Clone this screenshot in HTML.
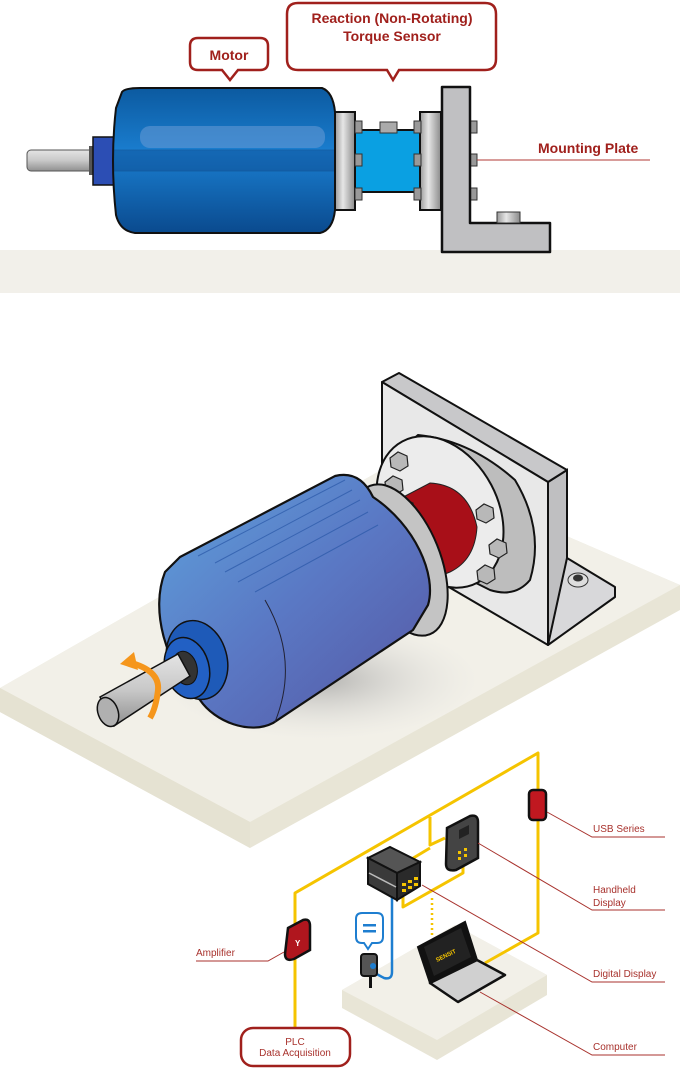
<!DOCTYPE html>
<html><head><meta charset="utf-8"><style>
html,body{margin:0;padding:0;background:#fff;}
svg{display:block;}
text{font-family:"Liberation Sans",sans-serif;}
</style></head><body>
<svg width="680" height="1071" viewBox="0 0 680 1071" xmlns="http://www.w3.org/2000/svg">
<defs>
<linearGradient id="gshaft" x1="0" y1="0" x2="0" y2="1"><stop offset="0" stop-color="#e4e4e4"/><stop offset="0.5" stop-color="#c8c8c8"/><stop offset="1" stop-color="#909090"/></linearGradient>
<linearGradient id="gfl" x1="0" y1="0" x2="1" y2="0"><stop offset="0" stop-color="#9a9a9a"/><stop offset="0.4" stop-color="#e6e6e6"/><stop offset="1" stop-color="#8a8a8a"/></linearGradient>
<linearGradient id="gmot" x1="0" y1="0" x2="0" y2="1"><stop offset="0" stop-color="#0c5aa0"/><stop offset="0.45" stop-color="#1a7ed0"/><stop offset="1" stop-color="#0a4a8e"/></linearGradient>
<linearGradient id="gbody" x1="0" y1="0" x2="1" y2="1"><stop offset="0" stop-color="#5ea2dc"/><stop offset="0.5" stop-color="#5a78c4"/><stop offset="1" stop-color="#5656a2"/></linearGradient>
<radialGradient id="gsh" cx="0.5" cy="0.5" r="0.5"><stop offset="0" stop-color="#999" stop-opacity="0.7"/><stop offset="1" stop-color="#ddd" stop-opacity="0"/></radialGradient>
</defs>

<!-- TOP SECTION -->
<rect x="0" y="250" width="680" height="43" fill="#f2f0ea"/>
<rect x="27" y="150" width="68" height="21" rx="4" fill="url(#gshaft)" stroke="#555" stroke-width="1"/>
<rect x="89" y="146" width="6" height="29" fill="#555"/>
<rect x="93" y="137" width="21" height="48" fill="#2c4eb4" stroke="#111" stroke-width="1.5"/>
<path d="M122,92 Q125,88 140,88 L322,88 Q333,92 335,112 L335,210 Q333,230 320,233 L135,233 Q120,231 116,215 Q110,160 116,108 Z" fill="url(#gmot)" stroke="#111" stroke-width="2"/>
<rect x="140" y="126" width="185" height="22" rx="10" fill="#6a9ad6" opacity="0.55"/>
<rect x="114" y="150" width="221" height="21" fill="#0a3f80" opacity="0.35" stroke="#0a2a5a" stroke-width="0.8"/>
<rect x="335" y="112" width="20" height="98" fill="url(#gfl)" stroke="#111" stroke-width="2"/>
<rect x="355" y="130" width="65" height="62" fill="#0aa0e2" stroke="#111" stroke-width="2"/>
<rect x="380" y="122" width="17" height="11" fill="#aaa" stroke="#333"/>
<rect x="420" y="112" width="21" height="98" fill="url(#gfl)" stroke="#111" stroke-width="2"/>
<g fill="#999" stroke="#333" stroke-width="1">
<rect x="355" y="121" width="7" height="12"/><rect x="355" y="154" width="7" height="12"/><rect x="355" y="188" width="7" height="12"/>
<rect x="414" y="121" width="7" height="12"/><rect x="414" y="154" width="7" height="12"/><rect x="414" y="188" width="7" height="12"/>
<rect x="470" y="121" width="7" height="12"/><rect x="470" y="154" width="7" height="12"/><rect x="470" y="188" width="7" height="12"/>
</g>
<path d="M442,87 L470,87 L470,223 L550,223 L550,252 L442,252 Z" fill="#c0c0c2" stroke="#111" stroke-width="2.5" stroke-linejoin="round"/>
<rect x="497" y="212" width="23" height="11" fill="url(#gfl)" stroke="#333"/>
<line x1="477" y1="160" x2="650" y2="160" stroke="#b03a36" stroke-width="1"/>
<text x="538" y="153" font-size="14" fill="#a0201c" font-weight="bold">Mounting Plate</text>
<path d="M198,38 L260,38 Q268,38 268,46 L268,62 Q268,70 260,70 L238,70 L230,80 L222,70 L198,70 Q190,70 190,62 L190,46 Q190,38 198,38 Z" fill="#fff" stroke="#a0201c" stroke-width="2.5"/>
<text x="229" y="60" font-size="14" font-weight="bold" fill="#a0201c" text-anchor="middle">Motor</text>
<path d="M298,3 L485,3 Q496,3 496,14 L496,59 Q496,70 485,70 L399,70 L393,80 L387,70 L298,70 Q287,70 287,59 L287,14 Q287,3 298,3 Z" fill="#fff" stroke="#a0201c" stroke-width="2.5"/>
<text x="392" y="23" font-size="14" font-weight="bold" fill="#a0201c" text-anchor="middle">Reaction (Non-Rotating)</text>
<text x="392" y="41" font-size="14" font-weight="bold" fill="#a0201c" text-anchor="middle">Torque Sensor</text>

<!-- MIDDLE PLATFORM -->
<polygon points="0,688 395,462 680,585 680,610 250,848 0,712" fill="#e8e5d6"/>
<polygon points="0,688 395,462 680,585 250,822" fill="#f2f0e8"/>
<polygon points="0,688 250,822 250,848 0,712" fill="#e5e2d2"/>
<ellipse cx="320" cy="680" rx="160" ry="60" fill="url(#gsh)"/>
<!-- bracket -->
<polygon points="548,482 567,470 567,585 548,645" fill="#bfbfc1" stroke="#111" stroke-width="2"/>
<polygon points="548,645 567,558 615,587 615,597" fill="#d8d8da" stroke="#111" stroke-width="2" stroke-linejoin="round"/>
<polygon points="382,382 399,373 567,470 548,482" fill="#c8c8ca" stroke="#111" stroke-width="2" stroke-linejoin="round"/>
<polygon points="382,382 548,482 548,645 382,548" fill="#e8e8e8" stroke="#111" stroke-width="2" stroke-linejoin="round"/>
<ellipse cx="578" cy="580" rx="10" ry="7" fill="#ddd" stroke="#333"/><ellipse cx="578" cy="578" rx="5" ry="3.5" fill="#333"/>
<!-- flange -->
<path d="M400,450 L418,435 Q470,440 515,480 Q545,530 530,580 Q515,598 490,590 L400,545 Z" fill="#bdbdbd" stroke="#111" stroke-width="2"/>
<ellipse cx="440" cy="512" rx="58" ry="80" transform="rotate(-28 440 512)" fill="#ececec" stroke="#111" stroke-width="2"/>
<path d="M388,505 L430,483 Q468,485 477,527 Q475,560 450,572 L405,590 Z" fill="#a80f18" stroke="#222" stroke-width="1"/>
<g fill="#b8b8b8" stroke="#222" stroke-width="1.2">
<polygon points="390,458 398,452 407,456 408,466 400,471 391,467"/>
<polygon points="385,482 393,476 402,480 403,490 395,495 386,491"/>
<polygon points="396,505 404,499 413,503 414,513 406,518 397,514"/>
<polygon points="476,510 484,504 493,508 494,518 486,523 477,519"/>
<polygon points="489,545 497,539 506,543 507,553 499,558 490,554"/>
<polygon points="477,571 485,565 494,569 495,579 487,584 478,580"/>
</g>
<!-- motor back rim -->
<ellipse cx="400" cy="560" rx="40" ry="80" transform="rotate(-22 400 560)" fill="#c4c4c4" stroke="#111" stroke-width="2"/>
<!-- motor body iso -->
<path d="M180,557 L335,476 Q360,470 373,497 C415,525 437,575 428,605 L413,630 L273,723 C250,735 215,722 200,700 C165,665 150,610 165,572 Z" fill="url(#gbody)" stroke="#111" stroke-width="2.2"/>
<g stroke="#2a58a8" stroke-width="1" opacity="0.7">
<line x1="198" y1="556" x2="345" y2="480"/><line x1="215" y1="563" x2="352" y2="490"/><line x1="225" y1="572" x2="360" y2="500"/><line x1="238" y1="582" x2="368" y2="512"/><line x1="255" y1="592" x2="378" y2="525"/>
</g>
<path d="M265,600 Q300,660 275,722" fill="none" stroke="#223" stroke-width="1"/>
<ellipse cx="197" cy="660" rx="30" ry="40" transform="rotate(-15 197 660)" fill="#1e5ab8" stroke="#111" stroke-width="1.5"/>
<ellipse cx="187" cy="668" rx="22" ry="31" transform="rotate(-15 187 668)" fill="#2260c4" stroke="#111" stroke-width="1.5"/>
<ellipse cx="185" cy="668" rx="12" ry="17" transform="rotate(-15 185 668)" fill="#333" stroke="#111"/>
<polygon points="100,697 178,654 190,676 114,726" fill="url(#gshaft)" stroke="#111" stroke-width="1.5"/>
<ellipse cx="108" cy="712" rx="10" ry="15" transform="rotate(-20 108 712)" fill="#b0b0b0" stroke="#111" stroke-width="1.5"/>
<path d="M128,662 Q160,670 158,690 Q156,708 150,718" fill="none" stroke="#f5961c" stroke-width="6"/>
<polygon points="120,664 134,652 138,670" fill="#f5961c"/>

<!-- BOTTOM PLATFORM -->
<polygon points="342,990 455,925 547,975 547,995 437,1060 342,1008" fill="#e8e5d6"/>
<polygon points="342,990 455,925 547,975 437,1040" fill="#f2f0e8"/>
<g fill="none" stroke="#f5c400" stroke-width="3" stroke-linejoin="round">
<polyline points="295,1028 295,893 538,753 538,933 485,963"/>
<polyline points="430,817 430,845 445,838"/>
<polyline points="410,860 430,848"/>
<polyline points="403,897 403,907 463,873 463,867"/>
</g>
<line x1="432" y1="898" x2="432" y2="935" stroke="#f5c400" stroke-width="2.5" stroke-dasharray="2,3"/>
<path d="M392,897 L392,972 Q392,980 384,978 L373,972" fill="none" stroke="#1e7ed0" stroke-width="2.5"/>
<path d="M362,913 L377,913 Q383,913 383,919 L383,937 Q383,943 377,943 L372,943 L368,949 L364,943 L362,943 Q356,943 356,937 L356,919 Q356,913 362,913 Z" fill="#fff" stroke="#1e7ed0" stroke-width="2"/>
<rect x="363" y="924" width="13" height="2.5" fill="#1e7ed0"/><rect x="363" y="930" width="13" height="2.5" fill="#1e7ed0"/>
<rect x="361" y="954" width="16" height="22" rx="3" fill="#555" stroke="#111" stroke-width="2"/>
<rect x="369" y="975" width="3" height="13" fill="#111"/>
<circle cx="373" cy="966" r="3" fill="#1e7ed0"/>
<polygon points="368,858 390,847 420,862 397,873" fill="#555" stroke="#111" stroke-width="2"/>
<polygon points="368,858 397,873 397,900 368,884" fill="#3a3a3a" stroke="#111" stroke-width="2"/>
<polygon points="397,873 420,862 420,886 397,900" fill="#2a2a2a" stroke="#111" stroke-width="2"/>
<line x1="369" y1="873" x2="396" y2="887" stroke="#bbb" stroke-width="1.5"/>
<g fill="#f5c400"><rect x="402" y="883" width="4" height="3"/><rect x="408" y="880" width="4" height="3"/><rect x="414" y="877" width="4" height="3"/><rect x="402" y="889" width="4" height="3"/><rect x="408" y="886" width="4" height="3"/><rect x="414" y="883" width="4" height="3"/></g>
<path d="M447,828 L470,816 Q478,814 478,822 L478,858 L456,870 Q446,872 446,864 Z" fill="#444" stroke="#111" stroke-width="2.5"/>
<polygon points="459,830 469,825 469,834 459,839" fill="#222"/>
<g fill="#f5c400"><rect x="458" y="851" width="3" height="3"/><rect x="464" y="848" width="3" height="3"/><rect x="458" y="857" width="3" height="3"/><rect x="464" y="854" width="3" height="3"/></g>
<rect x="529" y="790" width="17" height="30" rx="4" fill="#c01820" stroke="#111" stroke-width="2.5"/>
<path d="M288,928 L303,920 Q310,918 310,926 L310,950 L294,959 Q285,962 285,954 Z" fill="#b0161e" stroke="#111" stroke-width="2.5"/>
<text x="295" y="946" font-size="8" fill="#fff" font-weight="bold">Y</text>
<polygon points="418,947 465,922 477,960 430,983" fill="#111" stroke="#111" stroke-width="2"/>
<polygon points="424,947 461,928 471,957 434,976" fill="#222"/>
<text x="437" y="962" font-size="6" fill="#f5c400" font-weight="bold" transform="rotate(-26 437 962)">SENSIT</text>
<polygon points="430,983 477,960 505,975 458,1002" fill="#d0d0d0" stroke="#111" stroke-width="2.5" stroke-linejoin="round"/>
<g fill="none" stroke="#a8322d" stroke-width="1">
<polyline points="547,812 592,837 665,837"/>
<polyline points="478,843 592,910 665,910"/>
<polyline points="422,885 592,982 665,982"/>
<polyline points="480,992 592,1055 665,1055"/>
<polyline points="284,952 268,961 196,961"/>
</g>
<g font-size="10" fill="#a8322d">
<text x="593" y="832">USB Series</text>
<text x="593" y="893">Handheld</text>
<text x="593" y="906">Display</text>
<text x="593" y="977">Digital Display</text>
<text x="593" y="1050">Computer</text>
<text x="196" y="956">Amplifier</text>
</g>
<rect x="241" y="1028" width="109" height="38" rx="12" fill="#fff" stroke="#a0201c" stroke-width="2.5"/>
<text x="295" y="1045" font-size="10" fill="#a8322d" text-anchor="middle">PLC</text>
<text x="295" y="1056" font-size="10" fill="#a8322d" text-anchor="middle">Data Acquisition</text>
</svg>
</body></html>
